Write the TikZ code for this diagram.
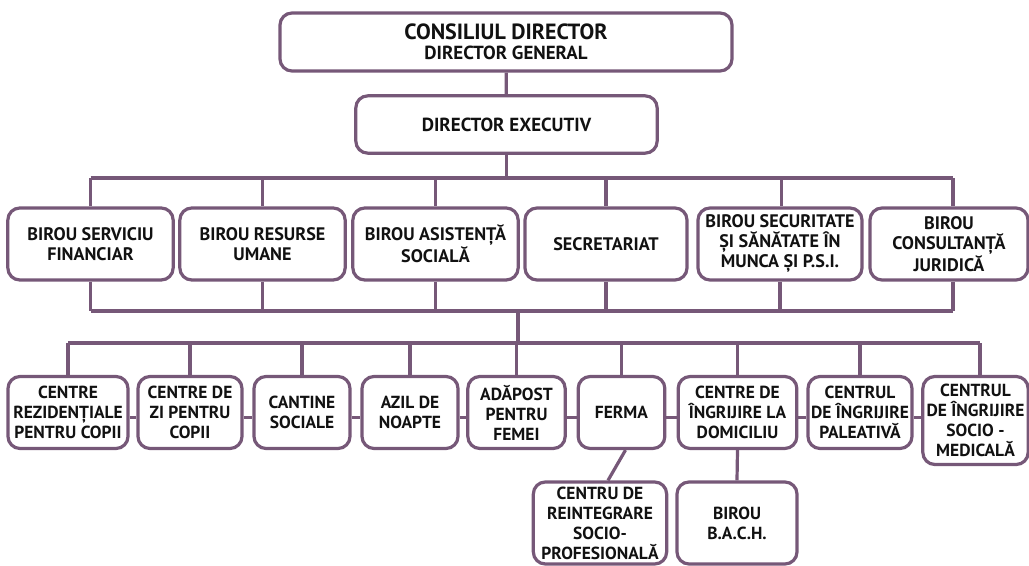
\documentclass[tikz,border=0pt]{standalone}
\usepackage{fontspec}
\setmainfont{PT Sans}
\usetikzlibrary{positioning}
\definecolor{chartline}{HTML}{765878}
\definecolor{chartink}{HTML}{111111}

\begin{document}
\begin{tikzpicture}[
  x=0.75pt,
  y=-0.75pt,
  every node/.style={font=\bfseries\fontsize{13.6}{15}\selectfont, chartink},
  unit/.style={draw=chartline, line width=2.4pt, rounded corners=9pt,
    align=center, inner sep=0pt, minimum height=54pt},
  centre/.style={unit, font=\bfseries\fontsize{13.1}{15}\selectfont},
  link/.style={chartline, line width=2.4pt}
]
  \useasboundingbox (0,0) rectangle (1029,566);

  % ---- management --------------------------------------------------------
  \node[unit, minimum width=339pt, minimum height=43.5pt] (board) at (506,42)
    {{\fontsize{16.5}{16}\selectfont CONSILIUL DIRECTOR}\\[0pt]
     {\fontsize{14.2}{15}\selectfont DIRECTOR GENERAL}};
  \node[unit, minimum width=226pt, minimum height=43pt] (exec) at (506.5,124.5)
    {\fontsize{14.2}{15}\selectfont DIRECTOR EXECUTIV};

  % ---- offices -----------------------------------------------------------
  \node[unit, minimum width=124pt] (fin) at (90.5,244)
    {BIROU SERVICIU\\FINANCIAR};
  \node[unit, minimum width=124pt] (hr) at (262.5,244)
    {BIROU RESURSE\\UMANE};
  \node[unit, minimum width=124pt] (soc) at (435.5,244)
    {BIROU ASISTENȚĂ\\SOCIALĂ};
  \node[unit, minimum width=121.5pt] (secr) at (606,244)
    {SECRETARIAT};
  \node[unit, minimum width=123pt] (safe) at (780,244)
    {BIROU SECURITATE\\ȘI SĂNĂTATE ÎN\\MUNCA ȘI P.S.I.};
  \node[unit, minimum width=118.5pt] (legal) at (949,244)
    {BIROU\\CONSULTANȚĂ\\JURIDICĂ};

  % ---- centres -----------------------------------------------------------
  \node[centre, minimum width=90pt] (res) at (68,412.5)
    {CENTRE\\REZIDENȚIALE\\PENTRU COPII};
  \node[centre, minimum width=78pt] (day) at (190,412.5)
    {CENTRE DE\\ZI PENTRU\\COPII};
  \node[centre, minimum width=72pt] (cant) at (302,412.5)
    {CANTINE\\SOCIALE};
  \node[centre, minimum width=72pt] (azil) at (410,412.5)
    {AZIL DE\\NOAPTE};
  \node[centre, minimum width=73pt] (shel) at (516.5,412.5)
    {ADĂPOST\\PENTRU\\FEMEI};
  \node[centre, minimum width=65pt] (farm) at (621.5,412.5)
    {FERMA};
  \node[centre, minimum width=89pt] (home) at (737.5,412.5)
    {CENTRE DE\\ÎNGRIJIRE LA\\DOMICILIU};
  \node[centre, minimum width=78pt] (pal) at (860,412.5)
    {CENTRUL\\DE ÎNGRIJIRE\\PALEATIVĂ};
  \node[centre, minimum width=79pt, minimum height=66pt] (med) at (975.5,420.5)
    {CENTRUL\\DE ÎNGRIJIRE\\SOCIO -\\MEDICALĂ};

  % ---- units below the centres -------------------------------------------
  \node[centre, minimum width=100pt, minimum height=61.5pt] (reint) at (600,523)
    {CENTRU DE\\REINTEGRARE\\SOCIO-\\PROFESIONALĂ};
  \node[centre, minimum width=90pt, minimum height=61.5pt] (bach) at (737,523)
    {BIROU\\B.A.C.H.};

  % ---- connectors --------------------------------------------------------
  \coordinate (topbus) at (0,178);
  \coordinate (lowbus) at (0,311);
  \coordinate (cenbus) at (0,343);
  \coordinate (joint) at (518,311);

  \draw[link] (board) -- (exec);
  \draw[link] (exec) -- (exec |- topbus);
  \draw[link] (fin |- topbus) -- (953,178);
  \draw[link] (fin.south |- lowbus) -- (953,311);
  \foreach \n in {fin,hr,soc,secr}
    \draw[link] (\n |- topbus) -- (\n.north)
      (\n.south) -- (\n.south |- lowbus);
  \draw[link] ([xshift=1pt]safe.north) -- ([xshift=1pt]safe.north |- topbus);
  \draw[link] (safe.south) -- (safe.south |- lowbus);
  \draw[link] ([xshift=3pt]legal.north) -- ([xshift=3pt]legal.north |- topbus);
  \draw[link] ([xshift=3pt]legal.south) -- ([xshift=3pt]legal.south |- lowbus);

  \draw[link] (joint) -- (joint |- cenbus);
  \draw[link] (res |- cenbus) -- (980,343);
  \foreach \n in {res,day,cant,azil,shel,farm,home,pal}
    \draw[link] (\n |- cenbus) -- (\n.north);
  \draw[link] ([xshift=3.4pt]med.north) -- ([xshift=3.4pt]med.north |- cenbus);

  \foreach \a/\b in {res/day,day/cant,cant/azil,azil/shel,shel/farm,farm/home,home/pal}
    \draw[link] ([yshift=-4pt]\a.east) -- ([yshift=-4pt]\b.west);
  \draw[link] ([yshift=-4pt]pal.east) -- ([yshift=-4pt]pal.east -| med.west);

  \draw[link] ([xshift=3pt]farm.south) -- ([xshift=6pt]reint.north);
  \draw[link] (home.south) -- (bach.north);

\end{tikzpicture}
\end{document}
